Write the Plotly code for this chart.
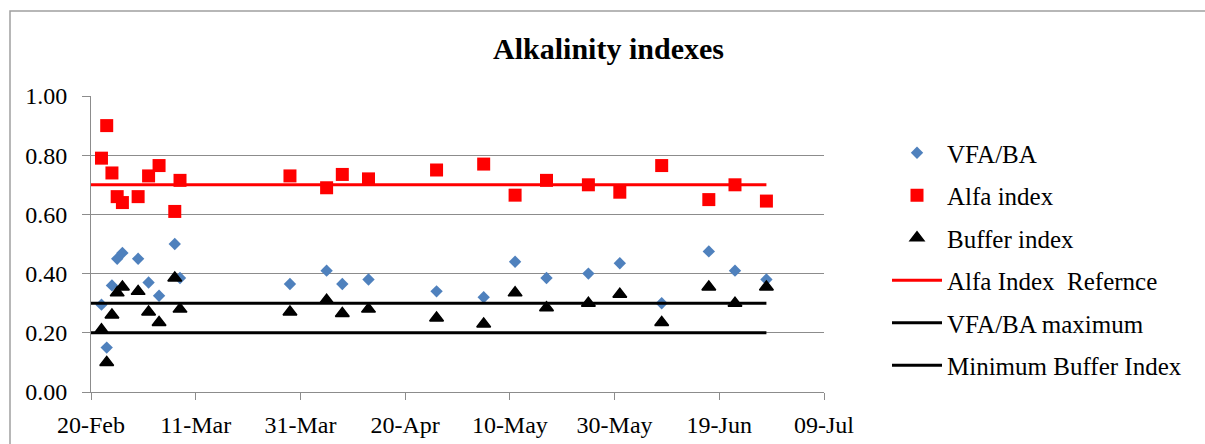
import plotly.graph_objects as go

# ---- data ----
dates = ["2012-02-22", "2012-02-23", "2012-02-24", "2012-02-25", "2012-02-26",
         "2012-02-29", "2012-03-02", "2012-03-04", "2012-03-07", "2012-03-08",
         "2012-03-29", "2012-04-05", "2012-04-08", "2012-04-13", "2012-04-26",
         "2012-05-05", "2012-05-11", "2012-05-17", "2012-05-25", "2012-05-31",
         "2012-06-08", "2012-06-17", "2012-06-22", "2012-06-28"]
vfa_ba = [0.295, 0.15, 0.36, 0.45, 0.47, 0.45, 0.37, 0.325, 0.50, 0.385,
          0.365, 0.41, 0.365, 0.38, 0.34, 0.32, 0.44, 0.385,
          0.40, 0.435, 0.30, 0.475, 0.41, 0.38]
alfa_index = [0.79, 0.90, 0.74, 0.66, 0.64, 0.66, 0.73, 0.765, 0.61, 0.715,
              0.73, 0.69, 0.735, 0.72, 0.75, 0.77, 0.665, 0.715,
              0.70, 0.675, 0.765, 0.65, 0.70, 0.645]
buffer_index = [0.21, 0.10, 0.26, 0.335, 0.355, 0.34, 0.27, 0.235, 0.385, 0.28,
                0.27, 0.31, 0.265, 0.28, 0.25, 0.23, 0.335, 0.285,
                0.30, 0.33, 0.235, 0.355, 0.30, 0.355]

ref_dates = ["2012-02-20", "2012-06-28"]
alfa_ref = [0.70, 0.70]
vfa_ba_max = [0.30, 0.30]
min_buffer = [0.20, 0.20]

tick_dates = ["2012-02-20", "2012-03-11", "2012-03-31", "2012-04-20",
              "2012-05-10", "2012-05-30", "2012-06-19", "2012-07-09"]
tick_text = ["20-Feb", "11-Mar", "31-Mar", "20-Apr", "10-May", "30-May", "19-Jun", "09-Jul"]
y_ticks = [0.0, 0.2, 0.4, 0.6, 0.8, 1.0]
y_text = ["0.00", "0.20", "0.40", "0.60", "0.80", "1.00"]

FONT = "Liberation Serif"
W, H = 1205, 444
L, R, T, B = 91, 381, 96, 52

fig = go.Figure()
fig.add_trace(go.Scatter(x=dates, y=vfa_ba, mode="markers", name="VFA/BA",
                         legendgroup="a",
                         marker=dict(symbol="diamond", size=9.5, color="#4F81BD")))
fig.add_trace(go.Scatter(x=dates, y=alfa_index, mode="markers", name="Alfa index",
                         legendgroup="b",
                         marker=dict(symbol="square", size=13, color="#FF0000")))
fig.add_trace(go.Scatter(x=dates, y=buffer_index, mode="markers", name="Buffer index",
                         legendgroup="c",
                         marker=dict(symbol="triangle-up", size=12, color="#000000",
                                     line=dict(color="#000000", width=1.5))))
fig.add_trace(go.Scatter(x=ref_dates, y=alfa_ref, mode="lines", name="Alfa Index  Refernce",
                         legendgroup="d",
                         line=dict(color="#FF0000", width=3)))
fig.add_trace(go.Scatter(x=ref_dates, y=vfa_ba_max, mode="lines", name="VFA/BA maximum",
                         legendgroup="e",
                         line=dict(color="#000000", width=3)))
fig.add_trace(go.Scatter(x=ref_dates, y=min_buffer, mode="lines", name="Minimum Buffer Index",
                         legendgroup="f",
                         line=dict(color="#000000", width=3)))

pw = W - L - R
ph = H - T - B

fig.update_layout(
    template="none",
    width=W, height=H,
    margin=dict(l=L, r=R, t=T, b=B, pad=0),
    paper_bgcolor="white", plot_bgcolor="white",
    font=dict(family=FONT, size=24, color="black"),
    title=dict(text="<b>Alkalinity indexes</b>", font=dict(family=FONT, size=30, color="black"),
               x=0.505, xanchor="center", xref="container",
               y=1 - 48 / H, yanchor="middle", yref="container"),
    showlegend=True,
    legend=dict(x=(887 - L) / pw, xanchor="left", y=1 - (130 - T) / ph, yanchor="top",
                font=dict(family=FONT, size=25, color="black"),
                itemwidth=50, tracegroupgap=7, bgcolor="rgba(0,0,0,0)",
                itemclick=False, itemdoubleclick=False),
    xaxis=dict(type="date", range=["2012-02-20", "2012-07-09"],
               tickmode="array", tickvals=tick_dates, ticktext=tick_text,
               showgrid=False, zeroline=False,
               showline=True, linecolor="#8C8C8C", linewidth=1,
               ticks="outside", ticklen=7, tickcolor="#8C8C8C", tickwidth=1,
               ticklabelstandoff=4,
               tickfont=dict(family=FONT, size=24, color="black")),
    yaxis=dict(range=[0, 1.0], tickmode="array", tickvals=y_ticks, ticktext=y_text,
               showgrid=True, gridcolor="#8C8C8C", gridwidth=1, zeroline=False,
               showline=True, linecolor="#8C8C8C", linewidth=1,
               ticks="outside", ticklen=8, tickcolor="#8C8C8C", tickwidth=1,
               ticklabelstandoff=10,
               tickfont=dict(family=FONT, size=24, color="black")),
    shapes=[dict(type="rect", xref="paper", yref="paper",
                 x0=(10 - L) / pw, x1=(W + 5 - L) / pw,
                 y0=-(H + 5 - (T + ph)) / ph, y1=1 + (T - 11) / ph,
                 line=dict(color="#A0A0A0", width=1.5), fillcolor="rgba(0,0,0,0)",
                 layer="below")],
)

fig.write_html("out.html")
